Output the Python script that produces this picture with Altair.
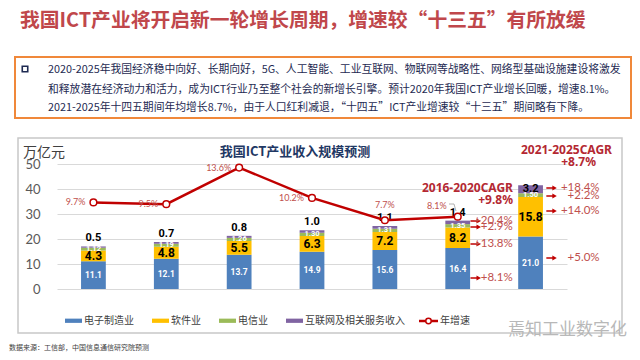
import altair as alt
import pandas as pd

# ---------------- data ----------------
years = ["2015年", "2016年", "2017年", "2018年", "2019年E", "2020年E", "2025年E"]
electronics = [11.1, 12.1, 13.7, 14.9, 15.6, 16.4, 21.0]
software = [4.3, 4.8, 5.5, 6.3, 7.2, 8.2, 15.8]
telecom = [1.12, 1.19, 1.26, 1.30, 1.31, 1.35, 1.50]
internet = [0.5, 0.7, 0.8, 1.0, 1.1, 1.4, 3.2]
growth_years = ["2015年", "2016年", "2017年", "2018年", "2019年E", "2020年E"]
growth = [9.7, 9.5, 13.6, 10.2, 7.7, 8.1]

categories = ["电子制造业", "软件业", "电信业", "互联网及相关服务收入"]
cat_colors = ["#4f81bd", "#ffc000", "#9bbb59", "#8064a2"]

# growth-rate annotations next to 2020 / 2025 bars (label, level in 万亿元)
ann20_labels = ["+20.4%", "+2.9%", "+13.8%", "+8.1%"]
ann20_levels = [27.2, 24.8, 18.0, 4.4]
ann25_labels = ["+18.4%", "+2.2%", "+14.0%", "+5.0%"]
ann25_levels = [40.4, 37.2, 31.2, 12.4]

title_text = "我国ICT产业将开启新一轮增长周期，增速较“十三五”有所放缓"
body_lines = [
    "2020-2025年我国经济稳中向好、长期向好，5G、人工智能、工业互联网、物联网等战略性、网络型基础设施建设将激发",
    "和释放潜在经济动力和活力，成为ICT行业乃至整个社会的新增长引擎。预计2020年我国ICT产业增长回暖，增速8.1%。",
    "2021-2025年十四五期间年均增长8.7%，由于人口红利减退，“十四五”ICT产业增速较“十三五”期间略有下降。",
]
chart_title = "我国ICT产业收入规模预测"
unit_text = "万亿元"
source_text = "数据来源：工信部，中国信息通信研究院预测"
watermark = "焉知工业数字化"

# ---------------- tables ----------------
rows = []
for i, yr in enumerate(years):
    base = 0.0
    for cat, vals in zip(categories, [electronics, software, telecom, internet]):
        v = vals[i]
        rows.append(dict(year=yr, cat=cat, value=v, y0=base, y1=base + v, mid=base + v / 2))
        base += v
bars_df = pd.DataFrame(rows)
growth_df = pd.DataFrame({"year": growth_years, "g": growth})
ann20_df = pd.DataFrame({"year": "2020年E", "label": ann20_labels, "lvl": ann20_levels})
ann25_df = pd.DataFrame({"year": "2025年E", "label": ann25_labels, "lvl": ann25_levels})

CJK = "Noto Sans CJK SC"
RED = "#c00000"
RED_TXT = "#c0504d"

xscale = alt.Scale(domain=years, paddingInner=0.66, paddingOuter=0.33)
X = alt.X("year:N", sort=years, scale=xscale,
          axis=alt.Axis(title=None, labelAngle=0, ticks=False, domainColor="#262626",
                        domainWidth=1.5, labelFontSize=8, labelColor="#404040",
                        labelFont=CJK, labelPadding=8, grid=False))
Xn = alt.X("year:N", sort=years, scale=xscale, axis=None)
ybar = alt.Scale(domain=[0, 50])
yline = alt.Scale(domain=[0, 14])

arrow_path = "M-1,-0.13L0.15,-0.13L0.15,-0.5L1,0L0.15,0.5L0.15,0.13L-1,0.13Z"
swatch_path = "M-1,-0.25L1,-0.25L1,0.25L-1,0.25Z"

bars = alt.Chart(bars_df).mark_bar().encode(
    x=X,
    y=alt.Y("y0:Q", scale=ybar,
            axis=alt.Axis(values=[0, 10, 20, 30, 40, 50], title=None, domain=False, ticks=False,
                          labelPadding=17, labelFontSize=13, labelColor="#595959", labelFont="Lato",
                          gridColor="#d9d9d9", gridWidth=1)),
    y2="y1:Q",
    color=alt.Color("cat:N", scale=alt.Scale(domain=categories, range=cat_colors),
                    legend=alt.Legend(title=None, orient="none", legendX=8, legendY=148,
                                      direction="horizontal", symbolType=swatch_path,
                                      symbolSize=289, symbolStrokeWidth=0, labelFont=CJK,
                                      labelFontSize=10, labelColor="#404040", labelOffset=2,
                                      columnPadding=18, padding=0)),
)

def seg_text(cat, color, size, fmt):
    return alt.Chart(bars_df).transform_filter(alt.datum.cat == cat).mark_text(
        color=color, fontSize=size, fontWeight="bold", font="Roboto", baseline="middle"
    ).encode(x=Xn, y=alt.Y("mid:Q", scale=ybar, axis=None), text=alt.Text("value:Q", format=fmt))

t_elec = seg_text("电子制造业", "white", 8.5, ".1f")
t_soft = seg_text("软件业", "black", 12, ".1f")
t_tel = seg_text("电信业", "white", 7.5, ".2f")

t_int_top = alt.Chart(bars_df).transform_filter(
    (alt.datum.cat == "互联网及相关服务收入") & (alt.datum.year != "2025年E")
).mark_text(color="black", fontSize=11, fontWeight="bold", font="Roboto", baseline="middle", dy=-8).encode(
    x=Xn, y=alt.Y("y1:Q", scale=ybar, axis=None), text=alt.Text("value:Q", format=".1f"))
t_int_in = alt.Chart(bars_df).transform_filter(
    (alt.datum.cat == "互联网及相关服务收入") & (alt.datum.year == "2025年E")
).mark_text(color="black", fontSize=11, fontWeight="bold", font="Roboto", baseline="middle").encode(
    x=Xn, y=alt.Y("mid:Q", scale=ybar, axis=None), text=alt.Text("value:Q", format=".1f"))

gy = alt.Y("g:Q", scale=yline, axis=None)
line = alt.Chart(growth_df).mark_line(color=RED, strokeWidth=2.5).encode(x=Xn, y=gy)
pts = alt.Chart(growth_df).mark_point(shape="circle", filled=True, fill="white", stroke=RED,
                                      strokeWidth=1.5, size=45, opacity=1).encode(x=Xn, y=gy)

def glabel(pred, **kw):
    return alt.Chart(growth_df).transform_filter(pred).transform_calculate(
        lab="format(datum.g, '.1f') + '%'"
    ).mark_text(color=RED_TXT, fontSize=9, font="Lato", baseline="middle", **kw).encode(
        x=Xn, y=gy, text="lab:N")

gl_left = glabel(alt.FieldOneOfPredicate(field="year", oneOf=growth_years[:4]), align="right", dx=-8)
gl_19 = glabel(alt.datum.year == "2019年E", align="center", dy=-15)
gl_20 = glabel(alt.datum.year == "2020年E", align="right", dx=-11, dy=-11)

def arrows(df, xoff):
    return alt.Chart(df).mark_point(shape=arrow_path, filled=True, color=RED, size=110,
                                    opacity=1, xOffset=xoff).encode(
        x=Xn, y=alt.Y("lvl:Q", scale=ybar, axis=None))

def arrow_text(df, xoff):
    return alt.Chart(df).mark_text(color=RED_TXT, fontSize=11.5, font="Lato", align="right",
                                   baseline="middle", dx=xoff).encode(
        x=Xn, y=alt.Y("lvl:Q", scale=ybar, axis=None), text="label:N")

a20 = arrows(ann20_df, 18)
a20t = arrow_text(ann20_df, 55)
a25 = arrows(ann25_df, 21)
a25t = arrow_text(ann25_df, 69)

def vtext(txt, x, y, **kw):
    return alt.Chart(pd.DataFrame({"t": [txt]})).mark_text(**kw).encode(
        x=alt.value(x), y=alt.value(y), text="t:N")

one = pd.DataFrame({"a": [0]})
# frames
frame = alt.Chart(one).mark_rect(fill=None, stroke="#c8c8c8", strokeWidth=1.5).encode(
    x=alt.value(-39), x2=alt.value(565), y=alt.value(-26), y2=alt.value(169))
obox = alt.Chart(one).mark_rect(fill="white", stroke="#f0883a", strokeWidth=2).encode(
    x=alt.value(-42), x2=alt.value(574), y=alt.value(-107), y2=alt.value(-46))
bullet = alt.Chart(one).mark_point(shape="square", filled=False, stroke="#1e2a52",
                                   strokeWidth=1.6, size=30, opacity=1).encode(
    x=alt.value(-32), y=alt.value(-95))
# leader line for the 8.1% label
lead1 = alt.Chart(one).mark_rule(color="#a0a0a0", strokeWidth=0.8).encode(
    x=alt.value(392), x2=alt.value(397), y=alt.value(40))
lead2 = alt.Chart(one).mark_rule(color="#a0a0a0", strokeWidth=0.8).encode(
    x=alt.value(397), x2=alt.value(399), y=alt.value(40), y2=alt.value(47))

title = vtext(title_text, -37, -143, font=CJK, fontSize=19.8, fontWeight="bold", color="#c0474b",
              align="left", baseline="middle")
body = [vtext(t, -9, yy, font=CJK, fontSize=10.8, color="#1e2a52", align="left", baseline="middle")
        for t, yy in zip(body_lines, [-94, -74, -56])]
ctitle = vtext(chart_title, 238, -12, font=CJK, fontSize=13, fontWeight="bold", color="#1f3864",
               align="center", baseline="middle")
unit = vtext(unit_text, -34, -11, font=CJK, fontSize=14, color="#404040", align="left", baseline="middle")
ck = dict(font="Noto Sans", fontSize=12, fontWeight="bold", color="#b42832", align="right", baseline="middle")
cagr1a = vtext("2016-2020CAGR", 456, 24, **ck)
cagr1b = vtext("+9.8%", 456, 36, **ck)
cagr2a = vtext("2021-2025CAGR", 555, -14, **ck)
cagr2b = vtext("+8.7%", 539, -2, **ck)
source = vtext(source_text, -48, 184, font=CJK, fontSize=7, color="#404040", align="left", baseline="middle")
wm = vtext(watermark, 451, 166, font=CJK, fontSize=17, color="#b8b8b8", align="left", baseline="middle")

# legend entry for the growth line
leg_line = alt.Chart(one).mark_rule(color=RED, strokeWidth=2.5).encode(
    x=alt.value(362), x2=alt.value(381), y=alt.value(157))
leg_pt = alt.Chart(one).mark_point(shape="circle", filled=True, fill="white", stroke=RED,
                                   strokeWidth=1.5, size=30, opacity=1).encode(
    x=alt.value(371.5), y=alt.value(157))
leg_txt = vtext("年增速", 383, 157, font=CJK, fontSize=10, color="#404040", align="left", baseline="middle")

chart = alt.layer(
    obox, frame, bullet, title, *body, ctitle, unit,
    bars, t_elec, t_soft, t_tel, t_int_top, t_int_in,
    line, pts, gl_left, gl_19, gl_20, lead1, lead2,
    a20, a20t, a25, a25t, cagr1a, cagr1b, cagr2a, cagr2b,
    leg_line, leg_pt, leg_txt, source, wm,
).resolve_scale(y="independent").properties(
    width=510, height=125,
    padding={"left": 49, "top": 156, "right": 65, "bottom": 63},
    autosize=alt.AutoSizeParams(type="none"),
    background="white",
).configure_view(strokeWidth=0)

chart.save("out.html", embed_options={"renderer": "svg", "actions": False})
